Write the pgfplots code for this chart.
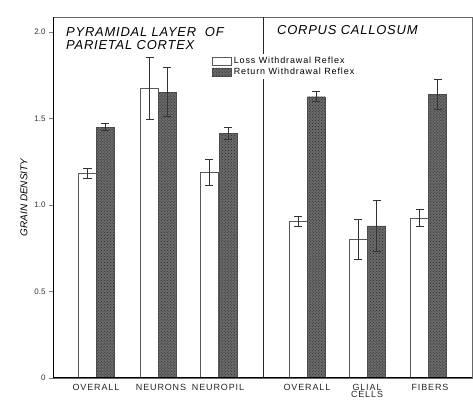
\documentclass[border=0pt]{standalone}
\usepackage{pgfplots}
\pgfplotsset{compat=1.18}
\usepackage{fontspec}
\setmainfont{Liberation Sans}
\newfontfamily\wide[LetterSpace=10]{Liberation Sans}
\newfontfamily\titlef[LetterSpace=6]{Liberation Sans}
\usetikzlibrary{patterns}
\definecolor{hatch}{gray}{0.42}
\begin{document}
\begin{tikzpicture}
\useasboundingbox (-53bp,-25bp) rectangle (420bp,378bp);
\begin{axis}[
  at={(0,0)}, anchor=south west,
  scale only axis, width=419bp, height=361bp,
  xmin=53, xmax=472, ymin=0, ymax=2.087,
  axis line style={black!60, line width=0.5pt},
  ybar, bar width=18, bar shift=0pt,
  xtick={96,161,218,307,367,430},
  xticklabels={OVERALL,NEURONS,NEUROPIL,OVERALL,{GLIAL\\CELLS},FIBERS},
  xticklabel style={font=\wide\fontsize{9}{7.5}\selectfont, align=center, yshift=0bp, inner ysep=2pt, text=black!85},
  x tick style={draw=none},
  ytick={0,0.5,1,1.5,2},
  yticklabels={0,0.5,1.0,1.5,2.0},
  yticklabel style={font=\fontsize{8}{9}\selectfont, text=black!80},
  ytick pos=left, tick align=outside, major tick length=4bp,
  /pgf/number format/assume math mode=true,
  ylabel={\itshape GRAIN DENSITY},
  ylabel style={font=\wide\fontsize{10}{11}\selectfont, at={(axis description cs:-0.086,0.47)}, anchor=center, rotate=0},
  ylabel near ticks=false,
  legend style={at={(axis cs:211,1.875)}, anchor=north west, draw=none, fill=white,
    font=\wide\fontsize{9}{9}\selectfont, inner sep=1pt, row sep=-1pt,
    cells={anchor=west}},
  legend image code/.code={\draw[#1,bar width=0pt] (0bp,-4bp) rectangle (19bp,4bp);},
  error bars/error bar style={line width=0.9pt, black!80},
  error bars/error mark options={rotate=90, mark size=4bp, line width=0.9pt, black!80},
]
\draw[black!85, line width=1pt] (axis cs:263,0) -- (axis cs:263,2.087);
\addplot[draw=black!65, line width=0.6pt, fill=white,
  error bars/.cd, y dir=both, y explicit]
  coordinates {
  (87.5,1.183) +- (0,0.027)
  (149.7,1.676) +- (0,0.18)
  (209,1.19) +- (0,0.075)
  (298,0.904) +- (0,0.03)
  (358,0.803) +- (0,0.116)
  (419.5,0.925) +- (0,0.05)
  };
\addplot[draw=black!70, line width=0.4pt, fill=hatch,
  postaction={pattern=crosshatch dots, pattern color=black!85},
  error bars/.cd, y dir=both, y explicit]
  coordinates {
  (105,1.45) +- (0,0.02)
  (167,1.653) +- (0,0.14)
  (228,1.414) +- (0,0.035)
  (316,1.626) +- (0,0.03)
  (376.5,0.879) +- (0,0.15)
  (437.5,1.64) +- (0,0.085)
  };
\legend{Loss Withdrawal Reflex, Return Withdrawal Reflex}
\node[anchor=west, font=\titlef\fontsize{13}{13}\selectfont\itshape, inner sep=0pt] at (axis cs:66,2.0) {PYRAMIDAL LAYER\ \ OF};
\node[anchor=west, font=\titlef\fontsize{13}{13}\selectfont\itshape, inner sep=0pt] at (axis cs:66,1.925) {PARIETAL CORTEX};
\node[anchor=west, font=\titlef\fontsize{13}{13}\selectfont\itshape, inner sep=0pt] at (axis cs:277,2.01) {CORPUS CALLOSUM};
\draw[black, line width=1.3pt] (axis cs:53,2.087) -- (axis cs:53,0) -- (axis cs:472,0);
\end{axis}
\end{tikzpicture}
\end{document}
